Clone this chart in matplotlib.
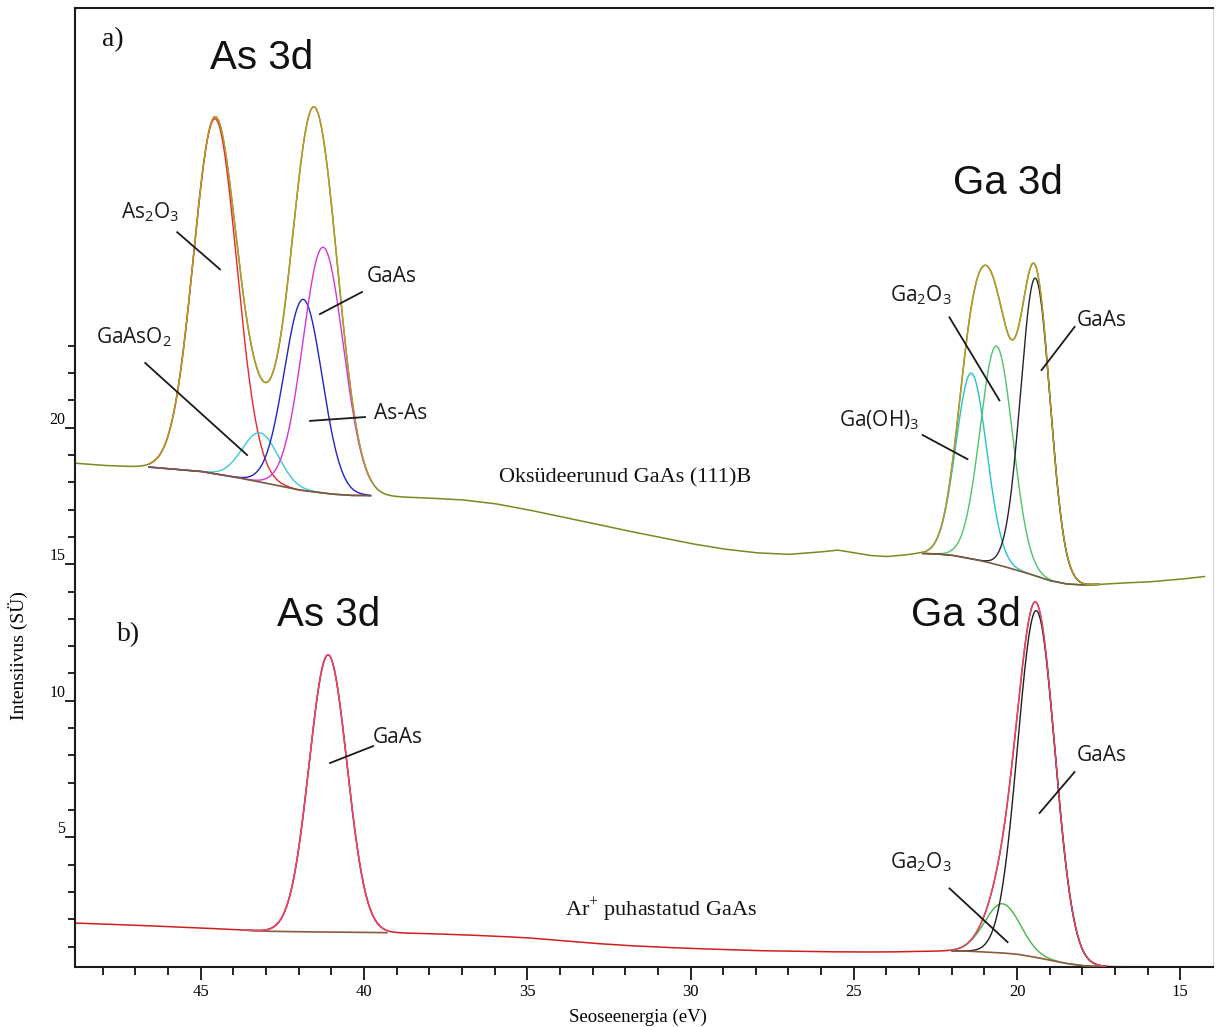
import numpy as np
import matplotlib.pyplot as plt

# XPS As 3d / Ga 3d spectra: a) oxidised GaAs (111)B, b) after Ar+ cleaning

# --- spectrum a: raw background level ---
bg_a_energy = [48.85, 48.0, 47.0, 46.5, 46.0, 45.0, 44.0, 43.0, 42.0, 41.0, 40.4, 40.0,
               39.0, 38.0, 37.0, 36.0, 35.0, 34.0, 33.0, 32.0, 31.0, 30.0, 29.0, 28.0,
               27.0, 26.0, 25.5, 25.0, 24.5, 24.0, 23.5, 23.0, 22.5, 22.0, 21.5, 21.0,
               20.5, 20.0, 19.5, 19.0, 18.5, 18.0, 17.5, 17.0, 16.0, 15.0, 14.5, 14.25]
bg_a_counts = [18.70, 18.62, 18.57, 18.55, 18.50, 18.40, 18.20, 17.97, 17.72, 17.57, 17.52, 17.52,
               17.47, 17.42, 17.36, 17.22, 17.00, 16.75, 16.50, 16.24, 16.00, 15.76, 15.56, 15.42,
               15.36, 15.45, 15.52, 15.42, 15.32, 15.28, 15.33, 15.40, 15.38, 15.33, 15.22, 15.10,
               14.95, 14.78, 14.60, 14.40, 14.28, 14.24, 14.26, 14.30, 14.35, 14.45, 14.52, 14.55]

# As 3d fit components (spectrum a)
as_a_labels = ['As$_\\mathregular{2}$O$_\\mathregular{3}$', 'GaAsO$_\\mathregular{2}$', 'As-As', 'GaAs']
as_a_centre = [44.56, 43.18, 41.86, 41.25]
as_a_height = [13.0, 1.8, 7.0, 9.0]
as_a_sigma = [0.66, 0.55, 0.58, 0.62]
as_a_colors = ['#e8262c', '#3cc9d2', '#2323c4', '#d534d8']

# Ga 3d fit components (spectrum a)
ga_a_labels = ['Ga(OH)$_\\mathregular{3}$', 'Ga$_\\mathregular{2}$O$_\\mathregular{3}$', 'GaAs']
ga_a_centre = [21.40, 20.63, 19.44]
ga_a_height = [6.8, 8.0, 10.9]
ga_a_sigma = [0.47, 0.50, 0.45]
ga_a_colors = ['#26c2c8', '#4cc46a', '#26222e']

# --- spectrum b ---
bg_b_energy = [48.85, 48.0, 47.0, 46.0, 45.0, 44.0, 43.0, 42.0, 41.0, 40.0, 39.0, 38.0,
               37.0, 36.0, 35.0, 34.0, 33.0, 32.0, 31.0, 30.0, 29.0, 28.0, 27.0, 26.0,
               25.0, 24.0, 23.0, 22.0, 21.5, 21.0, 20.5, 20.0, 19.5, 19.0, 18.5, 18.0,
               17.5, 17.0, 16.0]
bg_b_counts = [1.86, 1.82, 1.78, 1.73, 1.68, 1.62, 1.56, 1.54, 1.53, 1.52, 1.50, 1.47,
               1.43, 1.38, 1.32, 1.22, 1.12, 1.04, 0.98, 0.93, 0.89, 0.85, 0.83, 0.81,
               0.80, 0.80, 0.82, 0.84, 0.83, 0.80, 0.77, 0.72, 0.62, 0.50, 0.38, 0.30,
               0.27, 0.26, 0.26]

as_b_centre = [41.10]
as_b_height = [10.15]
as_b_sigma = [0.58]
as_b_colors = ['#d8305a']

ga_b_labels = ['Ga$_\\mathregular{2}$O$_\\mathregular{3}$', 'GaAs']
ga_b_centre = [20.45, 19.41]
ga_b_height = [1.8, 12.7]
ga_b_sigma = [0.55, 0.57]
ga_b_colors = ['#45b845', '#1e1e1e']


def gauss(e, c, h, s):
    return h * np.exp(-(e - c) ** 2 / (2 * s ** 2))


def draw_spectrum(ax, e_lo, bg_e, bg_i, regions, raw_color, env_color, bg_color):
    e = np.arange(48.85, e_lo, -0.01)
    bg = np.interp(e, bg_e[::-1], bg_i[::-1])
    raw = bg.copy()
    for (lo, hi, cen, hgt, sig, cols) in regions:
        for c, h, s in zip(cen, hgt, sig):
            raw += gauss(e, c, h, s)
    ax.plot(e, raw, color=raw_color, lw=1.1, zorder=2)
    for (lo, hi, cen, hgt, sig, cols) in regions:
        m = (e <= hi) & (e >= lo)
        env = bg[m].copy()
        for c, h, s, col in zip(cen, hgt, sig, cols):
            g = gauss(e[m], c, h, s)
            env += g
            ax.plot(e[m], bg[m] + g, color=col, lw=1.0, zorder=3)
        ax.plot(e[m], bg[m], color=bg_color, lw=1.2, zorder=4)
        ax.plot(e[m], env, color=env_color, lw=1.0, zorder=5)


fig = plt.figure(figsize=(12.16, 10.27), dpi=100)
ax = fig.add_axes([75 / 1216, 60 / 1027, 1138 / 1216, 959 / 1027])

draw_spectrum(ax, 14.25, bg_a_energy, bg_a_counts,
              [(39.8, 46.6, as_a_centre, as_a_height, as_a_sigma, as_a_colors),
               (17.5, 22.9, ga_a_centre, ga_a_height, ga_a_sigma, ga_a_colors)],
              '#78891f', '#b89c2a', '#7a5a3a')
draw_spectrum(ax, 16.0, bg_b_energy, bg_b_counts,
              [(39.3, 43.6, as_b_centre, as_b_height, as_b_sigma, as_b_colors),
               (17.3, 22.0, ga_b_centre, ga_b_height, ga_b_sigma, ga_b_colors)],
              '#d21d1d', '#e04a6e', '#8a5a3c')

ax.set_xlim(48.85, 14.0)
ax.set_ylim(0.25, 35.37)

# ticks
ax.set_xticks([45, 40, 35, 30, 25, 20, 15])
ax.set_xticks(np.arange(48, 14, -1), minor=True)
ax.set_yticks([5, 10, 15, 20])
ax.set_yticks(np.arange(1, 24), minor=True)
ax.tick_params(axis='x', which='major', direction='out', length=9.5, width=1.2,
               labelsize=12, pad=3)
ax.tick_params(axis='x', which='minor', direction='out', length=6, width=1.2)
ax.tick_params(axis='y', which='major', direction='out', length=7, width=1.2,
               labelsize=11.5, pad=0)
ax.tick_params(axis='y', which='minor', direction='out', length=5, width=1.2)
for lbl in ax.get_xticklabels() + ax.get_yticklabels():
    lbl.set_family('Liberation Serif')
for lbl in ax.get_yticklabels():
    lbl.set_va('bottom')

for side in ['left', 'bottom', 'top']:
    ax.spines[side].set_linewidth(1.5)
    ax.spines[side].set_color('#1a1a1a')
ax.spines['right'].set_color('#d8d8d8')

ax.set_xlabel('Seoseenergia (eV)', family='Liberation Serif', fontsize=13.5)
ax.xaxis.set_label_coords(0.495, -0.043)
ax.set_ylabel('Intensiivus (SÜ)', family='Liberation Serif', fontsize=14)
ax.yaxis.set_label_coords(-0.041, 0.325)

serif = dict(family='Liberation Serif', color='#111111')
sans = dict(family='Liberation Sans', color='#111111')
lab = dict(family='Open Sans', color='#1a1a1a', fontsize=15, ha='center', va='center')

ax.text(47.68, 34.2, 'a)', fontsize=20, ha='center', va='center', **serif)
ax.text(47.22, 12.44, 'b)', fontsize=20, ha='center', va='center', **serif)
ax.text(43.12, 33.55, 'As 3d', fontsize=29, ha='center', va='center', **sans)
ax.text(20.29, 28.95, 'Ga 3d', fontsize=29, ha='center', va='center', **sans)
ax.text(41.07, 13.15, 'As 3d', fontsize=29, ha='center', va='center', **sans)
ax.text(21.58, 13.15, 'Ga 3d', fontsize=29, ha='center', va='center', **sans)
ax.text(32.0, 18.16, 'Oksüdeerunud GaAs (111)B', fontsize=16, ha='center', va='center', **serif)
ax.text(30.91, 2.36, 'Ar$^\\mathregular{+}$ puhastatud GaAs', fontsize=16, ha='center',
        va='center', **serif)

# component labels with leader lines: (text, text pos, line start, line end)
leaders = [
    (as_a_labels[0], (46.55, 27.9), (45.72, 27.16), (44.41, 25.8)),
    (as_a_labels[1], (47.04, 23.31), (46.7, 22.37), (43.58, 19.0)),
    (as_a_labels[3], (39.14, 25.52), (40.06, 24.97), (41.35, 24.16)),
    (as_a_labels[2], (38.87, 20.53), (39.97, 20.39), (41.65, 20.25)),
    (ga_a_labels[1], (22.93, 24.85), (22.07, 24.04), (20.54, 21.0)),
    (ga_a_labels[2], (17.42, 23.94), (18.24, 23.69), (19.25, 22.11)),
    (ga_a_labels[0], (24.21, 20.28), (22.89, 19.73), (21.52, 18.85)),
    ('GaAs', (38.96, 8.67), (39.72, 8.34), (41.04, 7.72)),
    (ga_b_labels[1], (17.42, 8.01), (18.24, 7.39), (19.31, 5.89)),
    (ga_b_labels[0], (22.93, 4.09), (22.07, 3.13), (20.29, 1.16)),
]
for txt, tpos, p0, p1 in leaders:
    ax.text(tpos[0], tpos[1], txt, **lab)
    ax.plot([p0[0], p1[0]], [p0[1], p1[1]], color='#1a1a1a', lw=1.3, zorder=6)

fig.savefig('out.png', dpi=100)
